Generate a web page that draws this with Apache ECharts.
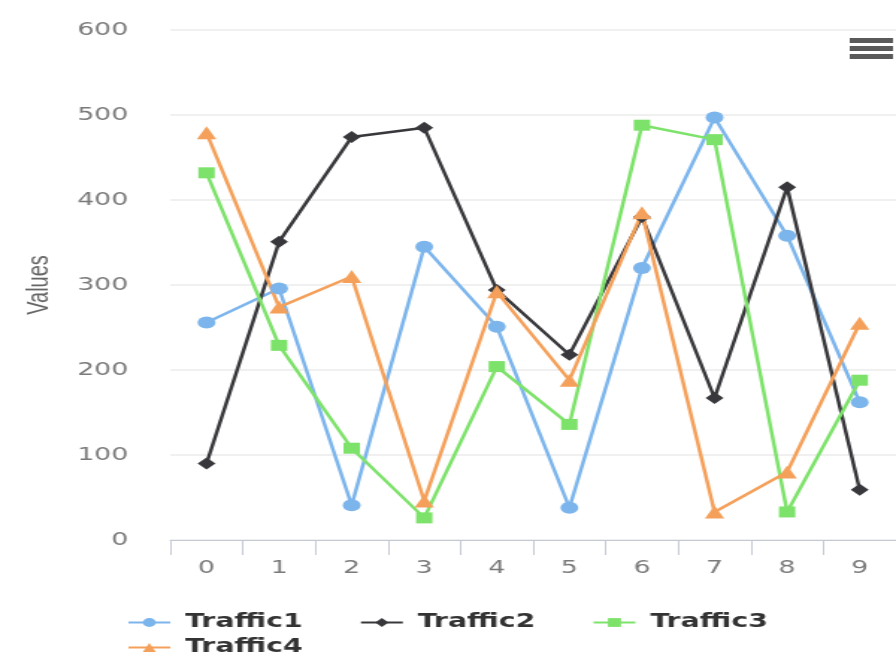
<!DOCTYPE html>
<html>
<head>
<meta charset="utf-8">
<title>Traffic</title>
<script src="https://cdn.jsdelivr.net/npm/echarts@6/dist/echarts.min.js"></script>
<style>
  html, body { margin: 0; padding: 0; background: #ffffff; overflow: hidden; }
  #wrap { width: 896px; height: 660px; overflow: hidden; }
  /* chart is laid out narrow and stretched horizontally */
  #chart { width: 600px; height: 660px; transform: scaleX(1.4933); transform-origin: 0 0; }
</style>
</head>
<body>
<div id="wrap"><div id="chart"></div></div>
<script>
const categories = ['0', '1', '2', '3', '4', '5', '6', '7', '8', '9'];
const yTicks = { min: 0, max: 600, step: 100 };

const traffic1 = [256, 296, 41, 345, 251, 38, 320, 497, 358, 162];
const traffic2 = [90, 351, 474, 485, 294, 218, 380, 167, 415, 59];
const traffic3 = [432, 229, 108, 26, 204, 136, 488, 471, 33, 188];
const traffic4 = [479, 274, 310, 46, 292, 188, 385, 33, 80, 255];

const seriesNames = ['Traffic1', 'Traffic2', 'Traffic3', 'Traffic4'];
const seriesData = [traffic1, traffic2, traffic3, traffic4];
const seriesColors = ['#7cb5ec', '#38383c', '#7de26a', '#f4a05a'];
const seriesSymbols = ['circle', 'diamond', 'rect', 'triangle'];
const symbolSizes = [12, 12, 11, 13];

const chart = echarts.init(document.getElementById('chart'));

const legendText = {
  fontFamily: 'DejaVu Sans',
  fontWeight: 'bold',
  fontSize: 19,
  color: '#333333',
  padding: [0, 0, 0, 5]
};

chart.setOption({
  animation: false,
  color: seriesColors,
  grid: { left: 114, right: 0, top: 30, bottom: 120 },
  legend: [
    {
      data: seriesNames.slice(0, 3),
      left: 80, top: 608,
      itemWidth: 28, itemHeight: 11, itemGap: 38,
      textStyle: legendText
    },
    {
      data: seriesNames.slice(3),
      left: 80, top: 633,
      itemWidth: 28, itemHeight: 11,
      textStyle: legendText
    }
  ],
  xAxis: {
    type: 'category',
    data: categories,
    boundaryGap: true,
    axisLine: { lineStyle: { color: '#c4cad4', width: 1 } },
    axisTick: { show: true, length: 15, lineStyle: { color: '#c4cad4' } },
    axisLabel: { margin: 19, fontFamily: 'DejaVu Sans', fontSize: 18, color: '#7a7a7a' },
    splitLine: { show: false }
  },
  yAxis: {
    type: 'value',
    min: yTicks.min,
    max: yTicks.max,
    interval: yTicks.step,
    name: 'Values',
    nameLocation: 'middle',
    nameGap: 78,
    nameTextStyle: { fontFamily: 'Liberation Sans', fontSize: 20, color: '#666666' },
    axisLine: { show: false },
    axisTick: { show: false },
    axisLabel: { margin: 28, padding: [4, 0, 0, 0], fontFamily: 'DejaVu Sans', fontSize: 18, color: '#7a7a7a' },
    splitLine: { lineStyle: { color: '#ebebeb', width: 1.5 } }
  },
  series: seriesNames.map((name, i) => ({
    name: name,
    type: 'line',
    data: seriesData[i],
    symbol: seriesSymbols[i],
    symbolSize: symbolSizes[i],
    showAllSymbol: true,
    lineStyle: { width: 2.5, color: seriesColors[i] },
    itemStyle: { color: seriesColors[i], borderWidth: 0 }
  })),
  graphic: [
    { type: 'rect', shape: { x: 569, y: 38, width: 29, height: 5 }, style: { fill: '#5a5a5a' } },
    { type: 'rect', shape: { x: 569, y: 46, width: 29, height: 5 }, style: { fill: '#5a5a5a' } },
    { type: 'rect', shape: { x: 569, y: 54, width: 29, height: 5 }, style: { fill: '#5a5a5a' } }
  ]
});
</script>
</body>
</html>
